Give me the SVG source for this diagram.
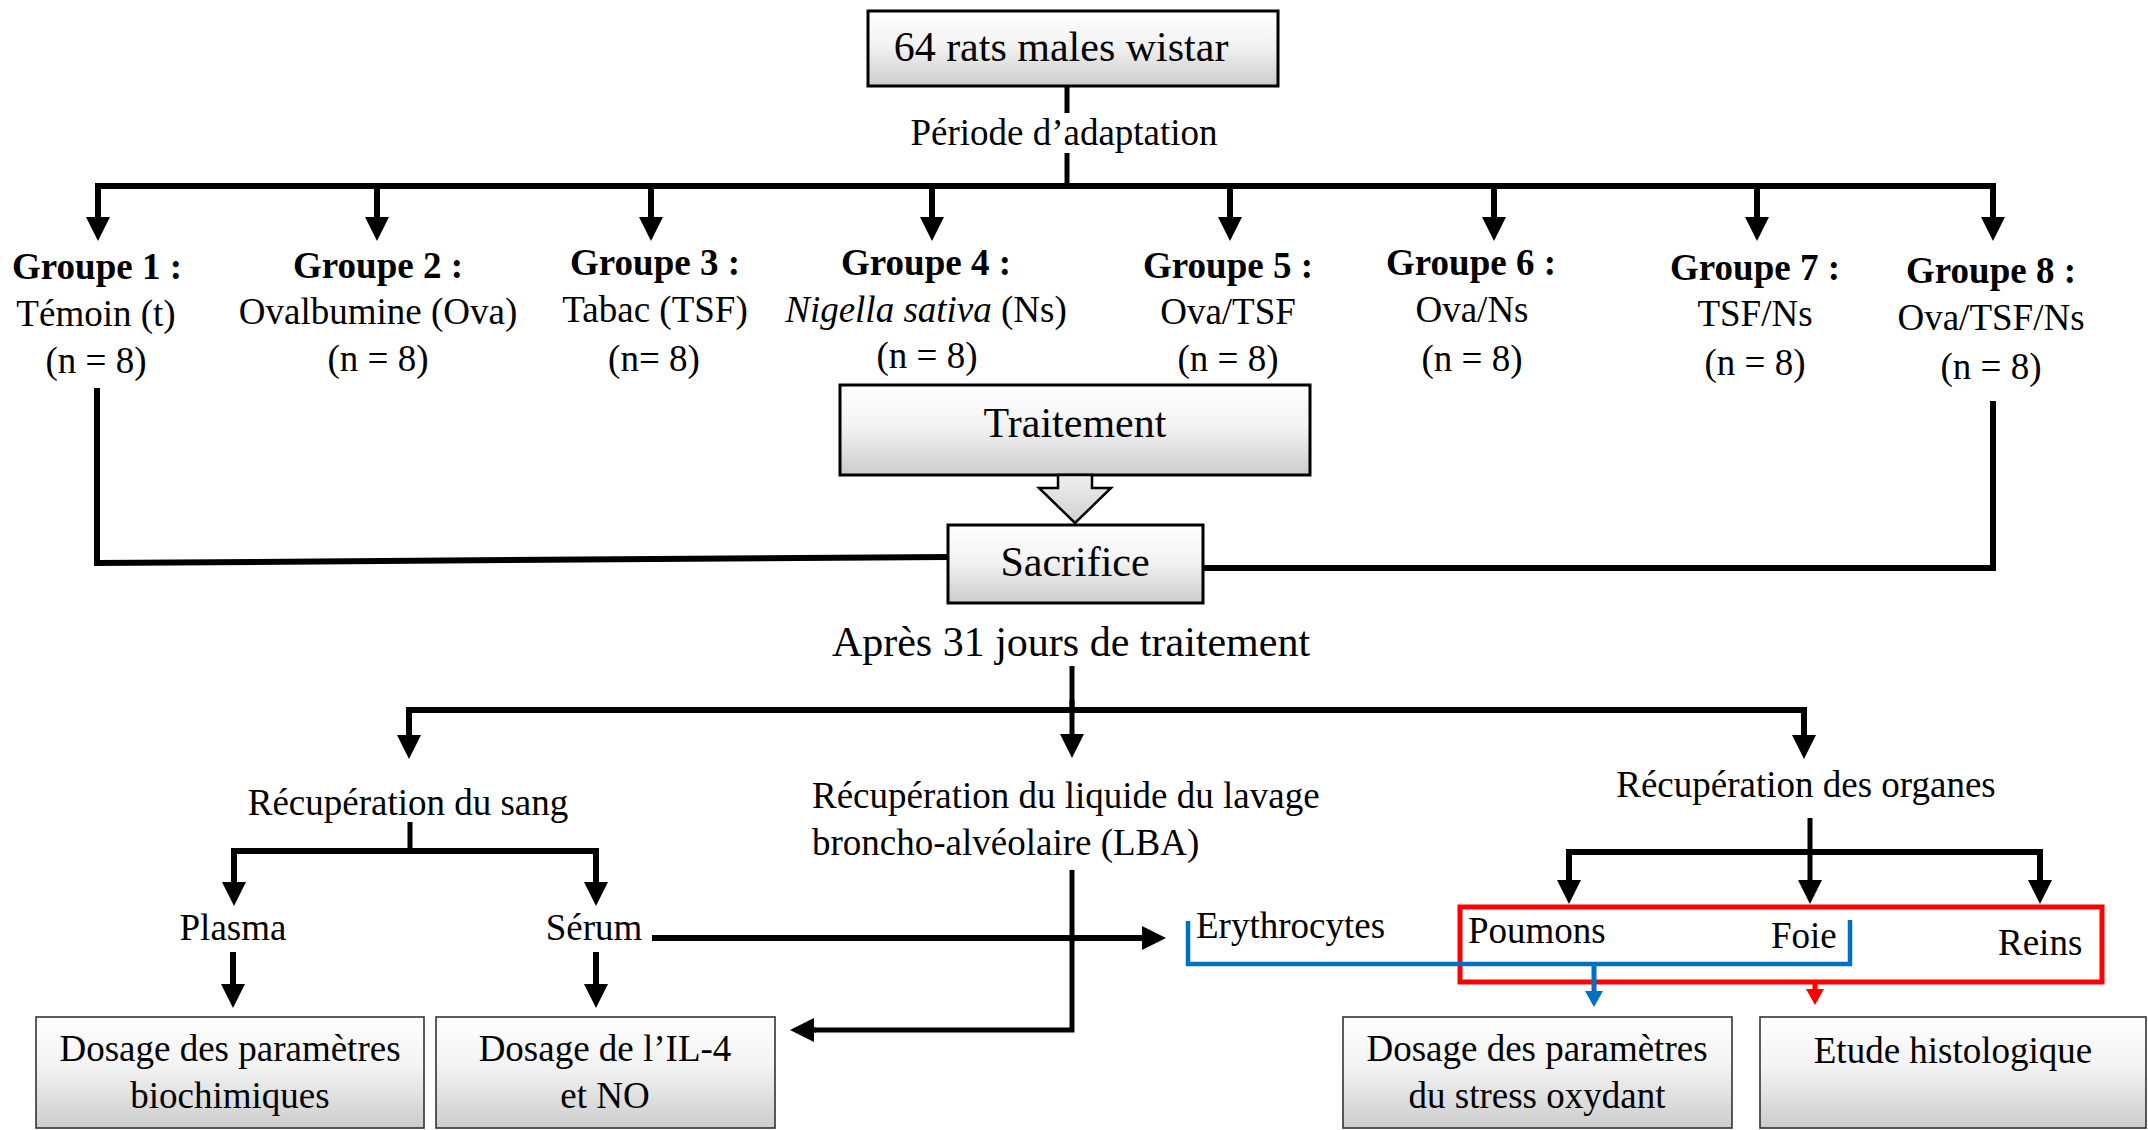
<svg xmlns="http://www.w3.org/2000/svg" width="2148" height="1130" viewBox="0 0 2148 1130">
<defs>
<linearGradient id="gbox" x1="0" y1="0" x2="0" y2="1">
<stop offset="0" stop-color="#ffffff"/>
<stop offset="0.45" stop-color="#f3f3f3"/>
<stop offset="1" stop-color="#cccccc"/>
</linearGradient>
<linearGradient id="garrow" x1="0" y1="0" x2="0" y2="1">
<stop offset="0" stop-color="#f0f0f0"/>
<stop offset="1" stop-color="#cfcfcf"/>
</linearGradient>
<marker id="ah" markerUnits="userSpaceOnUse" markerWidth="24" markerHeight="24" viewBox="0 0 24 24" refX="0" refY="12" orient="auto">
<path d="M0,0 L24,12 L0,24 Z" fill="#000"/>
</marker>
<marker id="ahb" markerUnits="userSpaceOnUse" markerWidth="16" markerHeight="18" viewBox="0 0 16 18" refX="0" refY="9" orient="auto">
<path d="M0,0 L16,9 L0,18 Z" fill="#0070C0"/>
</marker>
<marker id="ahr" markerUnits="userSpaceOnUse" markerWidth="16" markerHeight="18" viewBox="0 0 16 18" refX="0" refY="9" orient="auto">
<path d="M0,0 L16,9 L0,18 Z" fill="#FF0000"/>
</marker>
</defs>
<style>
text{font-family:"Liberation Serif","Times New Roman",serif;fill:#000}
.t37{font-size:37px}
.t42{font-size:42px}
.b{font-weight:bold}
.mid{text-anchor:middle}
.box{fill:url(#gbox);stroke:#000;stroke-width:3}
.box2{fill:url(#gbox);stroke:#333;stroke-width:1.6}
.ln{fill:none;stroke:#000;stroke-width:6;stroke-linejoin:miter;stroke-linecap:butt}
.ln5{fill:none;stroke:#000;stroke-width:5}
.arr{fill:none;stroke:#000;stroke-width:6;marker-end:url(#ah)}
.arr5{fill:none;stroke:#000;stroke-width:5;marker-end:url(#ah)}
</style>

<g id="connectors">
<line class="ln5" x1="1067" y1="86" x2="1067" y2="113"/>
<line class="ln5" x1="1067" y1="153" x2="1067" y2="186"/>
<line class="ln" x1="95" y1="186" x2="1996" y2="186"/>
<line class="arr" x1="98" y1="183" x2="98" y2="217"/>
<line class="arr" x1="377" y1="183" x2="377" y2="217"/>
<line class="arr" x1="651" y1="183" x2="651" y2="217"/>
<line class="arr" x1="932" y1="183" x2="932" y2="217"/>
<line class="arr" x1="1230" y1="183" x2="1230" y2="217"/>
<line class="arr" x1="1494" y1="183" x2="1494" y2="217"/>
<line class="arr" x1="1757" y1="183" x2="1757" y2="217"/>
<line class="arr" x1="1993" y1="183" x2="1993" y2="217"/>
<polyline class="ln" points="97,388 97,563 948,557"/>
<polyline class="ln" points="1993,401 1993,568 1203,568"/>
<line class="ln5" x1="1072" y1="666" x2="1072" y2="708"/>
<line class="ln" x1="406" y1="710" x2="1807" y2="710"/>
<line class="arr5" x1="1072" y1="700" x2="1072" y2="734"/>
<line class="arr" x1="409" y1="707" x2="409" y2="735"/>
<line class="arr" x1="1804" y1="707" x2="1804" y2="735"/>
<line class="ln5" x1="410" y1="822" x2="410" y2="850"/>
<line class="ln" x1="231" y1="851" x2="599" y2="851"/>
<line class="arr" x1="234" y1="848" x2="234" y2="882"/>
<line class="arr" x1="596" y1="848" x2="596" y2="882"/>
<line class="arr" x1="233" y1="952" x2="233" y2="984"/>
<line class="arr" x1="596" y1="952" x2="596" y2="984"/>
<line class="arr" x1="652" y1="938" x2="1142" y2="938"/>
<polyline class="ln5" points="1072,870 1072,1030 814,1030"/>
<line class="arr5" x1="816" y1="1030" x2="814" y2="1030"/>
<line class="ln5" x1="1810" y1="818" x2="1810" y2="852"/>
<line class="ln" x1="1566" y1="852" x2="2043" y2="852"/>
<line class="arr" x1="1569" y1="849" x2="1569" y2="880"/>
<line class="arr5" x1="1810" y1="849" x2="1810" y2="880"/>
<line class="arr" x1="2040" y1="849" x2="2040" y2="880"/>
<rect x="1460" y="907" width="642" height="75" fill="none" stroke="#FF0000" stroke-width="5"/>
<line x1="1815" y1="983" x2="1815" y2="989" stroke="#FF0000" stroke-width="5" marker-end="url(#ahr)"/>
<path d="M1188,921 V964 H1850 V920" fill="none" stroke="#0070C0" stroke-width="4.5"/>
<line x1="1594" y1="964" x2="1594" y2="991" stroke="#0070C0" stroke-width="5" marker-end="url(#ahb)"/>
</g>

<g id="n-rats">
<rect class="box" x="868" y="11" width="410" height="75"/>
<text class="t42 mid" x="1061" y="61">64 rats males wistar</text>
</g>
<g id="n-adaptation">
<text class="t37 mid" x="1064" y="145">Période d’adaptation</text>
</g>

<g id="n-g1">
<text class="t37 mid b" x="97" y="279">Groupe 1 :</text>
<text class="t37 mid" x="96" y="326">Témoin (t)</text>
<text class="t37 mid" x="96" y="373">(n = 8)</text>
</g>
<g id="n-g2">
<text class="t37 mid b" x="378" y="278">Groupe 2 :</text>
<text class="t37 mid" x="378" y="324">Ovalbumine (Ova)</text>
<text class="t37 mid" x="378" y="371">(n = 8)</text>
</g>
<g id="n-g3">
<text class="t37 mid b" x="655" y="275">Groupe 3 :</text>
<text class="t37 mid" x="655" y="322">Tabac (TSF)</text>
<text class="t37 mid" x="654" y="371">(n= 8)</text>
</g>
<g id="n-g4">
<text class="t37 mid b" x="926" y="275">Groupe 4 :</text>
<text class="t37 mid" x="926" y="322"><tspan font-style="italic">Nigella sativa</tspan> (Ns)</text>
<text class="t37 mid" x="927" y="368">(n = 8)</text>
</g>
<g id="n-g5">
<text class="t37 mid b" x="1228" y="278">Groupe 5 :</text>
<text class="t37 mid" x="1228" y="324">Ova/TSF</text>
<text class="t37 mid" x="1228" y="371">(n = 8)</text>
</g>
<g id="n-g6">
<text class="t37 mid b" x="1471" y="275">Groupe 6 :</text>
<text class="t37 mid" x="1472" y="322">Ova/Ns</text>
<text class="t37 mid" x="1472" y="371">(n = 8)</text>
</g>
<g id="n-g7">
<text class="t37 mid b" x="1755" y="280">Groupe 7 :</text>
<text class="t37 mid" x="1755" y="326">TSF/Ns</text>
<text class="t37 mid" x="1755" y="375">(n = 8)</text>
</g>
<g id="n-g8">
<text class="t37 mid b" x="1991" y="283">Groupe 8 :</text>
<text class="t37 mid" x="1991" y="330">Ova/TSF/Ns</text>
<text class="t37 mid" x="1991" y="379">(n = 8)</text>
</g>

<g id="n-traitement">
<rect class="box" x="840" y="385" width="470" height="90"/>
<text class="t42 mid" x="1075" y="437">Traitement</text>
</g>
<g id="n-blockarrow">
<polygon points="1058,475 1092,475 1092,488 1111,488 1075,523 1039,488 1058,488" fill="url(#garrow)" stroke="#000" stroke-width="2.5" stroke-linejoin="miter"/>
</g>
<g id="n-sacrifice">
<rect class="box" x="948" y="525" width="255" height="78"/>
<text class="t42 mid" x="1075" y="576">Sacrifice</text>
</g>
<g id="n-apres">
<text class="mid" font-size="42" x="1071" y="656">Après 31 jours de traitement</text>
</g>

<g id="n-sang">
<text class="t37 mid" x="408" y="815">Récupération du sang</text>
</g>
<g id="n-lba">
<text class="t37" x="812" y="808">Récupération du liquide du lavage</text>
<text class="t37" x="812" y="855">broncho-alvéolaire (LBA)</text>
</g>
<g id="n-organes">
<text class="t37 mid" x="1806" y="797">Récupération des organes</text>
</g>
<g id="n-plasma">
<text class="t37 mid" x="233" y="940">Plasma</text>
</g>
<g id="n-serum">
<text class="t37 mid" x="594" y="940">Sérum</text>
</g>
<g id="n-erythrocytes">
<text class="t37" x="1196" y="938">Erythrocytes</text>
</g>
<g id="n-poumons">
<text class="t37" x="1468" y="943">Poumons</text>
</g>
<g id="n-foie">
<text class="t37" x="1771" y="948">Foie</text>
</g>
<g id="n-reins">
<text class="t37" x="1998" y="955">Reins</text>
</g>

<g id="n-biochimiques">
<rect class="box2" x="36" y="1017" width="388" height="111"/>
<text class="t37 mid" x="230" y="1061">Dosage des paramètres</text>
<text class="t37 mid" x="230" y="1108">biochimiques</text>
</g>
<g id="n-il4">
<rect class="box2" x="436" y="1017" width="339" height="111"/>
<text class="t37 mid" x="605" y="1061">Dosage de l’IL-4</text>
<text class="t37 mid" x="605" y="1108">et NO</text>
</g>
<g id="n-stress">
<rect class="box2" x="1343" y="1017" width="389" height="111"/>
<text class="t37 mid" x="1537" y="1061">Dosage des paramètres</text>
<text class="t37 mid" x="1537" y="1108">du stress oxydant</text>
</g>
<g id="n-histo">
<rect class="box2" x="1760" y="1017" width="386" height="111"/>
<text class="t37 mid" x="1953" y="1063">Etude histologique</text>
</g>
</svg>
